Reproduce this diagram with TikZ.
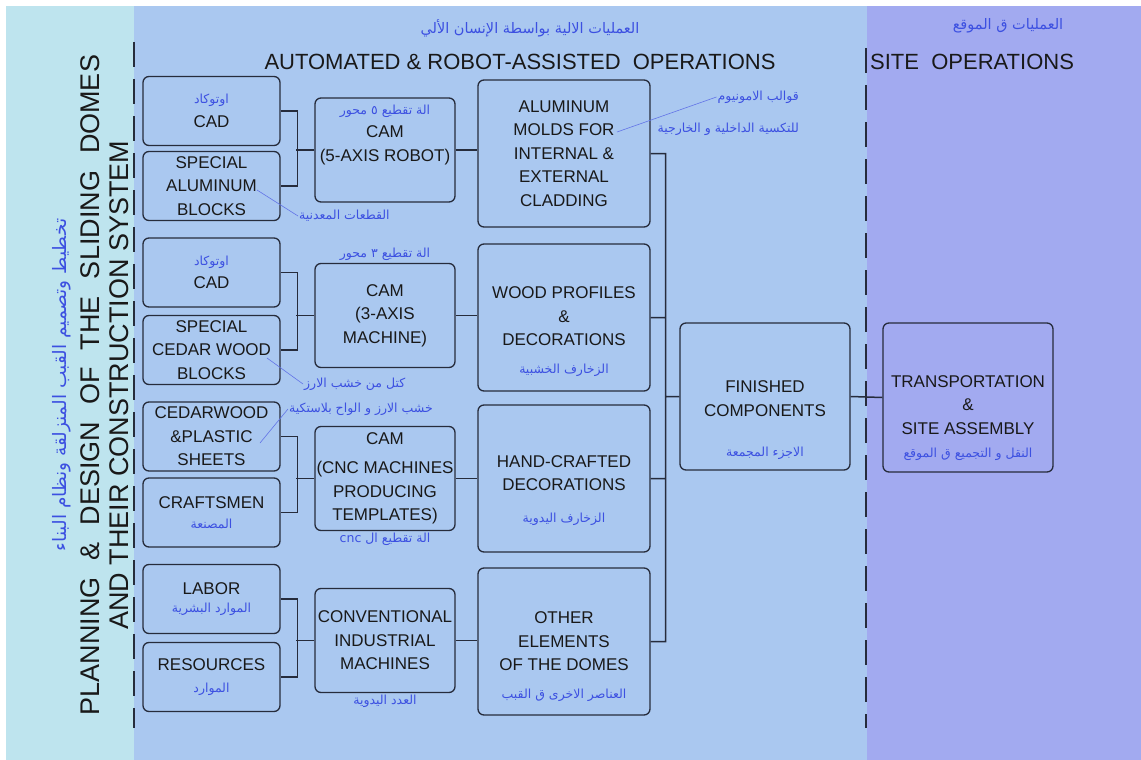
\documentclass[tikz,border=0pt]{standalone}
\usepackage{fontspec}
\setmainfont{Liberation Sans}
\newfontfamily\arabicfont[Script=Arabic]{DejaVu Sans}
\TeXXeTstate=1
\usepackage{tikz}
\usetikzlibrary{positioning, calc}

\definecolor{leftbg}{RGB}{190,228,238}
\definecolor{midbg}{RGB}{170,200,240}
\definecolor{sitebg}{RGB}{162,170,240}
\definecolor{inkline}{RGB}{38,44,60}
\definecolor{arblue}{RGB}{60,80,225}

\newcommand{\artxt}[2][12.5]{{\arabicfont\fontsize{#1}{#1}\selectfont\color{arblue}\beginR #2\endR}}

\begin{document}
\begin{tikzpicture}[x=1pt,y=-1pt,
        box/.style={draw=inkline,line width=1.3pt,rounded corners=6pt,align=center,
            text=black!90,font=\fontsize{17}{23.5}\selectfont,inner sep=1pt},
        inbox/.style={box,minimum width=137pt,minimum height=69pt},
        cambox/.style={box,minimum width=140pt,minimum height=104pt},
        outbox/.style={box,minimum width=172pt,minimum height=147pt},
        link/.style={draw=inkline,line width=1.5pt},
        leader/.style={draw=arblue!80,line width=0.6pt},
        divider/.style={draw=inkline,line width=2.8pt,dash pattern=on 25pt off 12pt},
        head/.style={font=\fontsize{22}{24}\selectfont,text=black!90,inner sep=0pt},
        arlbl/.style={inner sep=1pt}]

    \useasboundingbox (0,0) rectangle (1141,760);
    \fill[white] (0,0) rectangle (1141,760);
    \fill[leftbg] (6,6) rectangle (134,760);
    \fill[midbg] (134,6) rectangle (867,760);
    \fill[sitebg] (867,6) rectangle (1141,760);

    \draw[divider] (134,42) -- (134,728);
    \draw[divider] (866,48) -- (866,728);

    % headings
    \node[arlbl] (head_auto_ar) at (530,28) {\artxt[14.5]{العمليات الالية بواسطة الإنسان الألي}};
    \node[head] (head_auto) at (520,62) {AUTOMATED \& ROBOT-ASSISTED \ OPERATIONS};
    \node[arlbl] (head_site_ar) at (1008,26) {\artxt[14.5]{العمليات ق الموقع}};
    \node[head,anchor=west] (head_site) at (870,62) {SITE \ OPERATIONS};
    \node[rotate=90,align=center,inner sep=0pt,text=black!90,
        font=\fontsize{27}{29}\selectfont] (plan) at (105,385)
        {PLANNING\hskip17pt\&\hskip17pt DESIGN\hskip17pt OF\hskip17pt THE\hskip17pt SLIDING\hskip17pt DOMES\\AND THEIR CONSTRUCTION SYSTEM};
    \node[rotate=90,arlbl] (plan_ar) at (62,385) {\artxt[18.5]{تخطيط وتصميم القبب المنزلقة ونظام البناء}};

    % inputs
    \node[inbox] (cad_1)  at (211.5,111) {\artxt{اوتوكاد}\\CAD};
    \node[inbox] (blk_1)  at (211.5,186) {SPECIAL\\ALUMINUM\\BLOCKS};
    \node[inbox] (cad_2)  at (211.5,272.5) {\artxt{اوتوكاد}\\CAD};
    \node[inbox] (blk_2)  at (211.5,350) {SPECIAL\\CEDAR WOOD\\BLOCKS};
    \node[inbox] (sheets) at (211.5,436.5) {CEDARWOOD\\\&PLASTIC\\SHEETS};
    \node[inbox] (crafts) at (211.5,512.5) {CRAFTSMEN\\[-3pt]\artxt{المصنعة}};
    \node[inbox] (labor)  at (211.5,599) {LABOR\\[-5pt]\artxt{الموارد البشرية}};
    \node[inbox] (res)    at (211.5,677) {RESOURCES\\[-2pt]\artxt{الموارد}};

    % machines
    \node[cambox] (cam_1) at (385,150) {\artxt{الة تقطيع ٥ محور}\\CAM\\(5-AXIS ROBOT)\rule[-34pt]{0pt}{34pt}};
    \node[cambox] (cam_2) at (385,315.5) {CAM\\(3-AXIS\\MACHINE)};
    \node[cambox] (cam_3) at (385,478.5) {CAM\\[6pt](CNC MACHINES\\PRODUCING\\TEMPLATES)};
    \node[cambox] (conv)  at (385,640.5) {CONVENTIONAL\\INDUSTRIAL\\MACHINES};
    \node[arlbl,above=1pt of cam_2] (cam_2_ar) {\artxt{الة تقطيع ٣ محور}};
    \node[arlbl,below=1pt of cam_3] (cam_3_ar) {\artxt{الة تقطيع ال \beginL cnc\endL}};
    \node[arlbl,below=1pt of conv] (conv_ar) {\artxt{العدد اليدوية}};

    % products
    \node[outbox] (out_1) at (564,153.5) {ALUMINUM\\MOLDS FOR\\INTERNAL \&\\EXTERNAL\\CLADDING};
    \node[outbox] (out_2) at (564,317.5) {\rule{0pt}{40pt}WOOD PROFILES\\\&\\DECORATIONS\\[4pt]\artxt{الزخارف الخشبية}};
    \node[outbox] (out_3) at (564,478.5) {\rule{0pt}{36pt}HAND-CRAFTED\\DECORATIONS\\[8pt]\artxt{الزخارف اليدوية}};
    \node[outbox] (out_4) at (564,641.5) {\rule{0pt}{42pt}OTHER\\ELEMENTS\\OF THE DOMES\\[4pt]\artxt{العناصر الاخرى ق القبب}};
    \node[outbox,minimum width=170pt] (fin) at (765,396.5) {\rule{0pt}{60pt}FINISHED\\COMPONENTS\\[17pt]\artxt{الاجزء المجمعة}};
    \node[outbox,minimum width=170pt,minimum height=149pt] (site) at (968,397.5) {\rule{0pt}{53pt}TRANSPORTATION\\\&\\SITE ASSEMBLY\\\artxt{النقل و التجميع ق الموقع}};

    % notes
    \node[arlbl,anchor=west] (lbl_alu)   at (298,216) {\artxt{القطعات المعدنية}};
    \node[arlbl,anchor=west] (lbl_cedar) at (303,384) {\artxt{كتل من خشب الارز}};
    \node[arlbl,anchor=west] (lbl_sheet) at (288,409) {\artxt{خشب الارز و الواح بلاستكية}};
    \node[arlbl,anchor=east] (lbl_mold_a) at (800,97) {\artxt{قوالب الامونيوم}};
    \node[arlbl,anchor=east] (lbl_mold_b) at (800,129) {\artxt{للتكسية الداخلية و الخارجية}};
    \coordinate (p_alu) at (257,190);
    \coordinate (p_cedar) at (267,358);
    \coordinate (p_sheet) at (260,443);
    \coordinate (p_mold) at (617,132);
    \draw[leader] (p_alu) -- (lbl_alu.west);
    \draw[leader] (p_cedar) -- (lbl_cedar.west);
    \draw[leader] (p_sheet) -- (lbl_sheet.west);
    \draw[leader] (p_mold) -- (lbl_mold_a.west);

    % links
    \path[link] (cad_1.east) -- ++(17,0) |- (blk_1.east)
                (cam_1.west) -- ++(-18,0)
                (cad_2.east) -- ++(17,0) |- (blk_2.east)
                (cam_2.west) -- ++(-18,0)
                (sheets.east) -- ++(17,0) |- (crafts.east)
                (cam_3.west) -- ++(-18,0)
                (labor.east) -- ++(17,0) |- (res.east)
                (conv.west) -- ++(-18,0);
    \path[link] (cam_1.east) -- (cam_1.east -| out_1.west)
                (cam_2.east) -- (cam_2.east -| out_2.west)
                (cam_3.east) -- (cam_3.east -| out_3.west)
                (conv.east) -- (conv.east -| out_4.west);
    \path[link] (out_1.east) -- ++(15,0) coordinate (bus) |- (out_4.east)
                (out_2.east) -- (out_2.east -| bus)
                (out_3.east) -- (out_3.east -| bus)
                (fin.west) -- (fin.west -| bus)
                (fin.east) -- (site.west);
\end{tikzpicture}
\end{document}
